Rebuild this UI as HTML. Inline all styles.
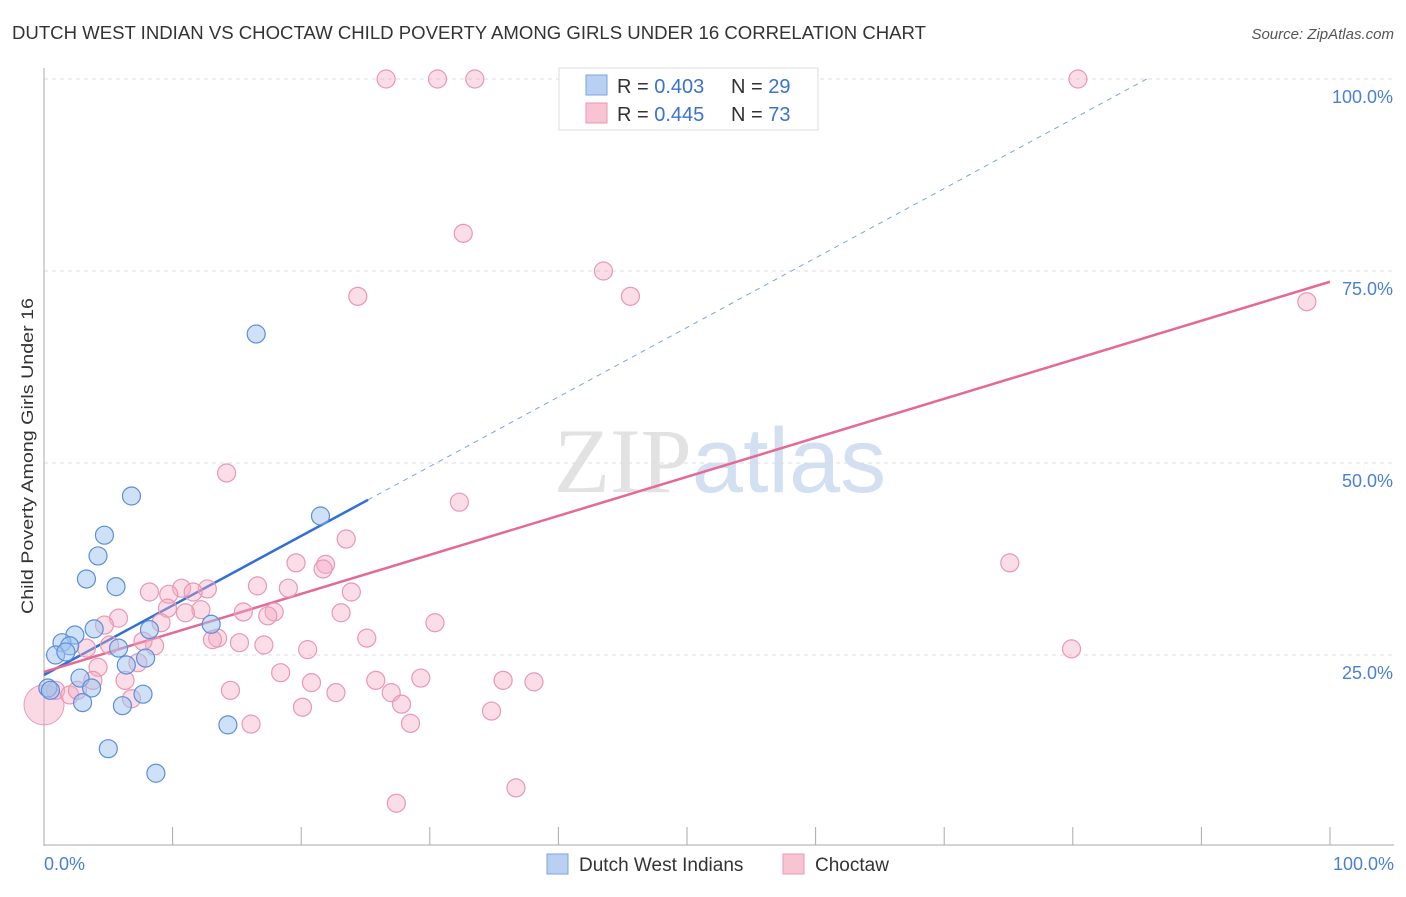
<!DOCTYPE html>
<html><head><meta charset="utf-8"><style>
body{margin:0;background:#fff;font-family:"Liberation Sans",sans-serif;}
svg text{font-family:"Liberation Sans",sans-serif;}
</style></head><body>
<svg id="chart" width="1406" height="892" xmlns="http://www.w3.org/2000/svg">
<text x="12" y="39" font-size="18" fill="#333" textLength="914" lengthAdjust="spacingAndGlyphs">DUTCH WEST INDIAN VS CHOCTAW CHILD POVERTY AMONG GIRLS UNDER 16 CORRELATION CHART</text>
<text x="1394" y="39" font-size="15" fill="#555" text-anchor="end" font-style="italic">Source: ZipAtlas.com</text>
<text transform="translate(33,456) rotate(-90)" font-size="17" fill="#333" text-anchor="middle" textLength="316" lengthAdjust="spacingAndGlyphs">Child Poverty Among Girls Under 16</text>
<text x="720" y="492" font-size="92" text-anchor="middle"><tspan fill="#e2e2e2" font-family="Liberation Serif">ZIP</tspan><tspan fill="#d3e0f2">atlas</tspan></text>
<g id="grid"></g><g id="axes"></g><g id="lines"></g><g id="pts"></g>
<g>
<rect x="559" y="68" width="259" height="62" fill="#fff" stroke="#ddd"/>
<rect x="586" y="75" width="21" height="20" fill="#b8d1f3" stroke="#7aa3e0"/>
<rect x="586" y="103" width="21" height="20" fill="#f8c3d3" stroke="#e899b1"/>
<text x="617" y="93" font-size="20" fill="#333">R = <tspan fill="#3a72d0">0.403</tspan></text>
<text x="731" y="93" font-size="20" fill="#333">N = <tspan fill="#3a72d0">29</tspan></text>
<text x="617" y="121" font-size="20" fill="#333">R = <tspan fill="#3a72d0">0.445</tspan></text>
<text x="731" y="121" font-size="20" fill="#333">N = <tspan fill="#3a72d0">73</tspan></text>
</g>
<g>
<rect x="547" y="854" width="21" height="20" fill="#b8d1f3" stroke="#7aa3e0"/>
<text x="579" y="871" font-size="19" fill="#333">Dutch West Indians</text>
<rect x="783" y="854" width="21" height="20" fill="#f8c3d3" stroke="#e899b1"/>
<text x="815" y="871" font-size="19" fill="#333">Choctaw</text>
</g>
</svg>
<script>
const blueX=[16.5,6.8,21.5,4.7,4.2,3.3,5.6,3.9,8.2,13.0,2.4,1.4,2.0,0.9,1.7,5.8,7.9,6.4,2.8,3.7,0.3,7.7,3.0,6.1,14.3,5.0,8.7,0.5];
const blueY=[66.8,45.7,43.1,40.6,37.9,34.9,33.9,28.4,28.3,29.0,27.6,26.6,26.2,25.0,25.4,25.9,24.6,23.7,22.0,20.7,20.7,19.9,18.8,18.4,15.9,12.8,9.6,20.4];
const pinkX=[26.6,30.6,33.5,80.4,32.6,43.5,45.6,24.4,98.2,14.2,32.3,23.5,75.1,19.6,21.9,21.7,8.2,10.7,12.7,11.6,16.6,19.0,23.9,9.7,9.6,12.2,11.0,15.5,17.9,17.4,23.1,5.8,4.7,9.1,30.4,13.5,13.1,25.1,15.2,17.1,8.6,5.1,7.7,20.5,3.3,79.9,4.2,7.3,18.4,20.8,25.8,29.3,35.7,38.1,6.3,3.8,14.5,22.7,27.0,0.9,2.0,2.6,6.8,27.8,20.1,34.8,16.1,28.5,36.7,27.4];
const pinkY=[100,100,100,100,79.9,75.0,71.7,71.7,71.0,48.7,44.9,40.1,37.0,37.0,36.8,36.2,33.2,33.7,33.6,33.2,34.0,33.7,33.2,32.9,31.1,30.9,30.5,30.6,30.6,30.1,30.5,29.8,28.9,29.2,29.2,27.2,27.0,27.2,26.6,26.3,26.2,26.3,26.8,25.7,25.9,25.8,23.4,24.0,22.7,21.4,21.7,22.0,21.7,21.5,21.7,21.7,20.4,20.1,20.1,20.4,19.8,20.4,19.3,18.6,18.2,17.7,16.0,16.1,7.7,5.7];
const yTicks=[25,50,75,100];
const xTickLabels=["0.0%","100.0%"];
const blueFit=[22.4,0.905];   // intercept, slope
const pinkFit=[22.8,0.508];
const NS="http://www.w3.org/2000/svg";
const X=v=>44+v*12.86, Y=v=>847-v*7.68;
function mk(tag,attrs,parent){const e=document.createElementNS(NS,tag);for(const k in attrs)e.setAttribute(k,attrs[k]);document.getElementById(parent).appendChild(e);return e;}
yTicks.forEach(t=>{
 const l=mk('line',{x1:44,x2:1394,y1:Y(t),y2:Y(t),stroke:'#ddd','stroke-dasharray':'4,4'},'grid');
 
 
 const tx=mk('text',{x:1393,y:Y(t)+24,'font-size':18,fill:'#4a7fd6','text-anchor':'end'},'grid');
 tx.textContent=t.toFixed(1)+'%';
 
 
});
mk('line',{x1:44,x2:44,y1:68,y2:846,stroke:'#aaa'},'axes');
mk('line',{x1:44,x2:1394,y1:845,y2:845,stroke:'#aaa'},'axes');
for(let i=0;i<=10;i++){mk('line',{x1:X(i*10),x2:X(i*10),y1:827,y2:845,stroke:'#aaa'},'axes');}
[[0,'start',44],[100,'end',1394]].forEach((a,i)=>{const t=mk('text',{x:a[2],y:870,'font-size':18,fill:'#4a7fd6','text-anchor':a[1]},'axes');t.textContent=xTickLabels[i];
 
 });
let bl=mk('line',{x1:X(0),y1:Y(blueFit[0]),x2:X(25.2),y2:Y(blueFit[0]+blueFit[1]*25.2),stroke:'#2f6fd6','stroke-width':2.5},'lines');


let bd=mk('line',{x1:X(25.2),y1:Y(blueFit[0]+blueFit[1]*25.2),x2:X((100-blueFit[0])/blueFit[1]),y2:Y(100),stroke:'#7aa3e0','stroke-width':1,'stroke-dasharray':'5,5'},'lines');


let pl=mk('line',{x1:X(0),y1:Y(pinkFit[0]),x2:X(100),y2:Y(pinkFit[0]+pinkFit[1]*100),stroke:'#e46a95','stroke-width':2.5},'lines');


let bp=mk('circle',{cx:X(0),cy:Y(18.5),r:20,fill:'rgba(245,170,195,0.45)',stroke:'#ee9ab5'},'pts');


pinkX.forEach((x,i)=>{const c=mk('circle',{cx:X(x),cy:Y(pinkY[i]),r:9,fill:'rgba(245,170,195,0.4)',stroke:'#e898b2','stroke-width':1.2},'pts');
 
 });
blueX.forEach((x,i)=>{const c=mk('circle',{cx:X(x),cy:Y(blueY[i]),r:9,fill:'rgba(160,195,240,0.5)',stroke:'#5b8fd8','stroke-width':1.2},'pts');
 
 });
</script>
</body></html>
